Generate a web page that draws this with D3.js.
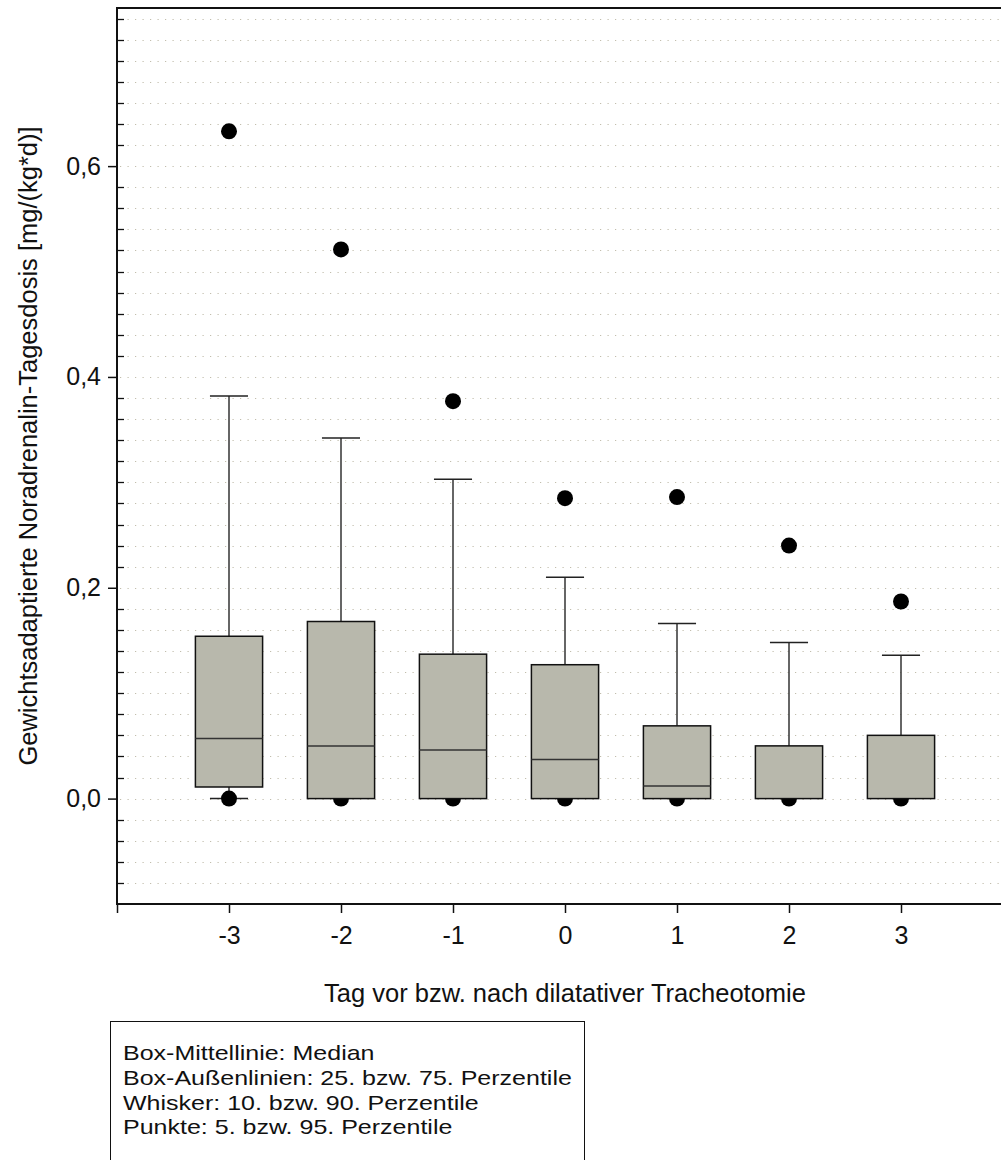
<!DOCTYPE html>
<html>
<head>
<meta charset="utf-8">
<script src="https://cdn.jsdelivr.net/npm/d3@7"></script>
<style>
  body { margin: 0; background: #fff; }
  svg, svg text { font-family: "Liberation Sans", Arial, sans-serif; }
  svg { display: block; }
</style>
</head>
<body>
<div id="vis"></div>
<script>
const days = [-3, -2, -1, 0, 1, 2, 3];
const p5 = [0, 0, 0, 0, 0, 0, 0];
const p10 = [0, 0, 0, 0, 0, 0, 0];
const q1 = [0.011, 0, 0, 0, 0, 0, 0];
const median = [0.057, 0.050, 0.046, 0.037, 0.012, 0, 0];
const q3 = [0.154, 0.168, 0.137, 0.127, 0.069, 0.050, 0.060];
const p90 = [0.382, 0.342, 0.303, 0.210, 0.166, 0.148, 0.136];
const p95 = [0.633, 0.521, 0.377, 0.285, 0.286, 0.240, 0.187];
const yTicks = [0, 0.2, 0.4, 0.6];
const legendLines = [
    'Box-Mittellinie: Median',
    'Box-Außenlinien: 25. bzw. 75. Perzentile',
    'Whisker: 10. bzw. 90. Perzentile',
    'Punkte: 5. bzw. 95. Perzentile'
];

const W = 1001, H = 1160;
const plot = { left: 117, top: 8, bottom: 904 };
const fontSize = 25;

const svg = d3.select('#vis').append('svg')
    .attr('width', W)
    .attr('height', H);

const x = d3.scaleLinear().domain([-4, 4]).range([plot.left, plot.left + 8 * 112]);
const y = d3.scaleLinear().domain([-0.1, 0.75]).range([plot.bottom, plot.top]);

const data = days.map((d, i) => ({
    day: d, p5: p5[i], p10: p10[i], q1: q1[i], med: median[i], q3: q3[i], p90: p90[i], p95: p95[i]
}));

// dotted grid every 0.02
const gridVals = d3.range(-4, 38).map(k => k * 0.02);
svg.append('g').selectAll('line')
    .data(gridVals)
    .join('line')
    .attr('x1', plot.left + 3)
    .attr('x2', W)
    .attr('y1', d => Math.round(y(d)) + 0.5)
    .attr('y2', d => Math.round(y(d)) + 0.5)
    .attr('stroke', '#c2bead')
    .attr('stroke-width', 1.2)
    .attr('stroke-dasharray', '1.2,6.3');

// minor ticks inside
svg.append('g').selectAll('line')
    .data(gridVals.filter(v => Math.abs(Math.round(v * 50) % 10) !== 0))
    .join('line')
    .attr('x1', plot.left)
    .attr('x2', plot.left + 7)
    .attr('y1', d => Math.round(y(d)) + 0.5)
    .attr('y2', d => Math.round(y(d)) + 0.5)
    .attr('stroke', '#111')
    .attr('stroke-width', 1.3);

// y axis
const yAxis = d3.axisLeft(y)
    .tickValues(yTicks)
    .tickSize(9)
    .tickPadding(7)
    .tickFormat(d => d3.format('.1f')(d).replace('.', ','));
const gy = svg.append('g')
    .attr('transform', `translate(${plot.left},0)`)
    .call(yAxis);
gy.select('.domain').remove();
gy.selectAll('.tick line').attr('stroke', '#111').attr('stroke-width', 1.5);
gy.selectAll('.tick text').attr('font-size', fontSize).attr('fill', '#111');

// x axis
const xAxis = d3.axisBottom(x)
    .tickValues([-4, ...days])
    .tickSize(9)
    .tickPadding(13)
    .tickFormat(d => d === -4 ? '' : d);
const gx = svg.append('g')
    .attr('transform', `translate(0,${plot.bottom})`)
    .call(xAxis);
gx.select('.domain').remove();
gx.selectAll('.tick line').attr('stroke', '#111').attr('stroke-width', 1.5);
gx.selectAll('.tick text').attr('font-size', fontSize).attr('fill', '#111');

// frame lines
svg.append('line')
    .attr('x1', plot.left).attr('x2', W)
    .attr('y1', plot.bottom).attr('y2', plot.bottom)
    .attr('stroke', '#111').attr('stroke-width', 2);
svg.append('line')
    .attr('x1', plot.left).attr('x2', W)
    .attr('y1', plot.top).attr('y2', plot.top)
    .attr('stroke', '#111').attr('stroke-width', 2);
svg.append('line')
    .attr('x1', plot.left).attr('x2', plot.left)
    .attr('y1', plot.top - 1).attr('y2', plot.bottom + 1)
    .attr('stroke', '#111').attr('stroke-width', 2);

const boxHalf = 0.3, capHalf = 0.17;
const g = svg.append('g');

// whiskers
g.selectAll('.whisker-up')
    .data(data)
    .join('line')
    .attr('x1', d => x(d.day)).attr('x2', d => x(d.day))
    .attr('y1', d => y(d.q3)).attr('y2', d => y(d.p90))
    .attr('stroke', '#333').attr('stroke-width', 1.5);
g.selectAll('.cap-up')
    .data(data)
    .join('line')
    .attr('x1', d => x(d.day - capHalf)).attr('x2', d => x(d.day + capHalf))
    .attr('y1', d => y(d.p90)).attr('y2', d => y(d.p90))
    .attr('stroke', '#222').attr('stroke-width', 1.5);
g.selectAll('.whisker-down')
    .data(data.filter(d => d.q1 > d.p10))
    .join('line')
    .attr('x1', d => x(d.day)).attr('x2', d => x(d.day))
    .attr('y1', d => y(d.q1)).attr('y2', d => y(d.p10))
    .attr('stroke', '#333').attr('stroke-width', 1.5);
g.selectAll('.cap-down')
    .data(data.filter(d => d.q1 > d.p10))
    .join('line')
    .attr('x1', d => x(d.day - capHalf)).attr('x2', d => x(d.day + capHalf))
    .attr('y1', d => y(d.p10)).attr('y2', d => y(d.p10))
    .attr('stroke', '#222').attr('stroke-width', 1.5);

// percentile points
g.selectAll('.pt-up')
    .data(data)
    .join('circle')
    .attr('cx', d => x(d.day)).attr('cy', d => y(d.p95))
    .attr('r', 8).attr('fill', '#000');
g.selectAll('.pt-down')
    .data(data)
    .join('circle')
    .attr('cx', d => x(d.day)).attr('cy', d => y(d.p5))
    .attr('r', 8).attr('fill', '#000');

// boxes
g.selectAll('.box')
    .data(data)
    .join('rect')
    .attr('x', d => x(d.day - boxHalf))
    .attr('width', d => x(d.day + boxHalf) - x(d.day - boxHalf))
    .attr('y', d => y(d.q3))
    .attr('height', d => y(d.q1) - y(d.q3))
    .attr('fill', '#b8b8ac')
    .attr('stroke', '#111')
    .attr('stroke-width', 1.5);
g.selectAll('.med')
    .data(data.filter(d => d.med > d.q1))
    .join('line')
    .attr('x1', d => x(d.day - boxHalf)).attr('x2', d => x(d.day + boxHalf))
    .attr('y1', d => y(d.med)).attr('y2', d => y(d.med))
    .attr('stroke', '#333').attr('stroke-width', 1.5);

// axis titles
svg.append('text')
    .attr('x', 565).attr('y', 1002)
    .attr('text-anchor', 'middle')
    .attr('font-size', 25.5)
    .attr('fill', '#111')
    .text('Tag vor bzw. nach dilatativer Tracheotomie');
svg.append('text')
    .attr('transform', 'translate(37,446) rotate(-90)')
    .attr('text-anchor', 'middle')
    .attr('font-size', 25.5)
    .attr('fill', '#111')
    .text('Gewichtsadaptierte Noradrenalin-Tagesdosis [mg/(kg*d)]');

// legend box
svg.append('rect')
    .attr('x', 110.5).attr('y', 1021.5)
    .attr('width', 474).attr('height', 160)
    .attr('fill', 'none')
    .attr('stroke', '#111')
    .attr('stroke-width', 1);

// legend text: smaller glyph height, stretched to the reference widths
const legendFont = 21;
const stretch = 25 / legendFont;
svg.append('g').selectAll('text')
    .data(legendLines)
    .join('text')
    .attr('x', 123)
    .attr('y', (d, i) => 1060 + i * 24.8)
    .attr('font-size', legendFont)
    .attr('fill', '#111')
    .text(d => d)
    .each(function () {
        const len = this.getComputedTextLength();
        d3.select(this)
            .attr('textLength', len * stretch)
            .attr('lengthAdjust', 'spacingAndGlyphs');
    });
</script>
</body>
</html>
